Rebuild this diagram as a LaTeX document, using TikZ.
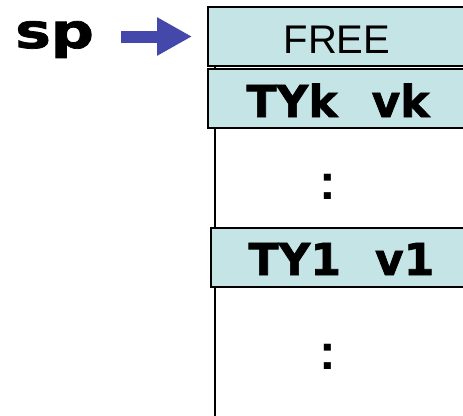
\documentclass[tikz,border=0pt]{standalone}
\usepackage{fontspec}
\setmainfont{DejaVu Sans}
\newfontfamily\slotfont{Liberation Sans}
\newfontfamily\heavyfont{DejaVu Sans Bold}[FakeBold=1.5]
\usetikzlibrary{arrows.meta}

\definecolor{slotfill}{RGB}{196,228,230}
\definecolor{ptrblue}{RGB}{67,72,170}

\tikzset{
  slot/.style={draw=black, line width=2pt, fill=slotfill, minimum height=59pt,
    minimum width=300pt, anchor=north west, inner sep=0pt},
  entry/.style={font=\heavyfont\fontsize{44}{44}\selectfont},
  elided/.style={font=\slotfont\bfseries\fontsize{50}{50}\selectfont},
  ptr/.style={draw=ptrblue, line width=12pt,
    -{Triangle[length=35pt, width=36pt]}},
}

\begin{document}
\begin{tikzpicture}[x=1pt, y=-1pt]
  \useasboundingbox (0,0) rectangle (463,415);
  % stack frame edge
  \draw[line width=2pt] (214.5,6) -- (214.5,420);
  % slots
  \node[slot] (free) at (207,6) {};
  \node[font=\slotfont\fontsize{40}{40}\selectfont, anchor=base] at (337,53) {FREE};
  \node[slot] (tyk) at (207,68) {};
  \node[entry, anchor=base west] at (243,117) {TYk\hspace{34pt}vk};
  \node[slot] (ty1) at (210,227) {};
  \node[entry, anchor=base west] at (245,275) {TY1\hspace{34pt}v1};
  % elided entries
  \node[elided, anchor=base] (gap1) at (328,199) {:};
  \node[elided, anchor=base] (gap2) at (328,369) {:};
  % stack pointer
  \node[inner sep=0pt, anchor=base west] (sp) at (15,48)
    {\scalebox{1.25}[1]{\heavyfont\fontsize{48}{48}\selectfont sp}};
  \draw[ptr, shorten <=27pt, shorten >=15pt] (sp.east |- free.west) -- (free.west);
\end{tikzpicture}
\end{document}
